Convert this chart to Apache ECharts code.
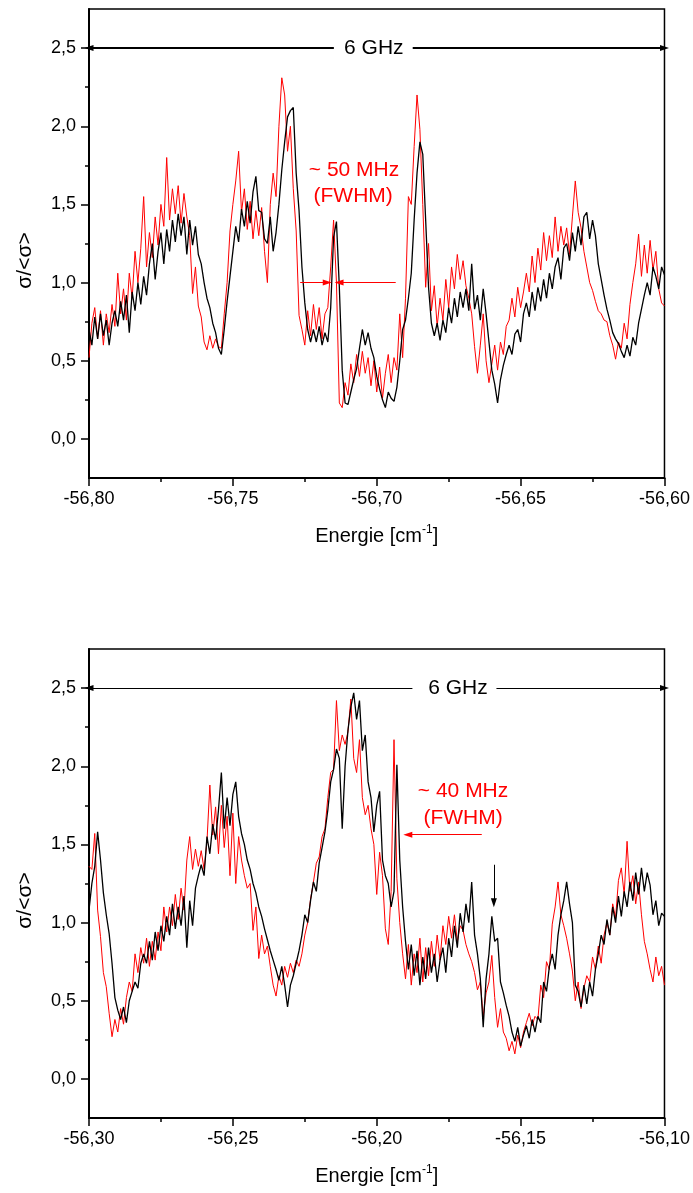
<!DOCTYPE html>
<html>
<head>
<meta charset="utf-8">
<script src="https://cdn.jsdelivr.net/npm/echarts@6/dist/echarts.min.js"></script>
<style>
html,body{margin:0;padding:0;background:#fff;}
#chart{width:693px;height:1193px;}
</style>
</head>
<body>
<div id="chart"></div>
<script>
// ---- data ----
const STEP = 0.001;
const topStart = -56.80;
const bottomStart = -56.30;

const topBlack = [
0.70,0.60,0.78,0.64,0.80,0.66,0.76,0.60,0.74,0.82,
0.72,0.88,0.76,0.92,0.68,0.94,0.82,1.00,0.86,1.04,
0.92,1.12,1.25,1.02,1.20,1.32,1.12,1.34,1.20,1.40,
1.26,1.44,1.30,1.42,1.18,1.40,1.24,1.36,1.18,1.12,
1.00,0.90,0.84,0.74,0.68,0.58,0.54,0.70,0.88,1.04,
1.20,1.36,1.26,1.47,1.36,1.52,1.38,1.58,1.68,1.46,
1.45,1.28,1.25,1.42,1.20,1.32,1.50,1.72,1.90,2.06,
2.10,2.12,1.70,1.46,1.10,0.87,0.70,0.62,0.70,0.62,
0.72,0.60,0.68,0.62,0.84,1.29,1.39,0.97,0.44,0.23,
0.22,0.30,0.38,0.45,0.58,0.70,0.60,0.68,0.58,0.52,
0.40,0.32,0.25,0.20,0.30,0.26,0.24,0.33,0.50,0.70,
0.76,0.90,1.06,1.40,1.70,1.90,1.82,1.40,0.97,0.74,
0.66,0.74,0.63,0.76,0.68,0.84,0.74,0.90,0.78,0.94,
0.84,0.96,0.82,1.12,0.83,0.92,0.76,0.96,0.80,0.62,
0.44,0.35,0.23,0.38,0.47,0.54,0.60,0.54,0.67,0.70,
0.62,0.80,0.87,0.78,0.94,0.82,0.97,0.88,1.02,0.90,
1.06,0.96,1.10,1.16,1.02,1.22,1.25,1.14,1.32,1.20,
1.36,1.24,1.42,1.45,1.28,1.40,1.30,1.12,1.02,0.92,
0.83,0.76,0.68,0.64,0.61,0.56,0.52,0.60,0.53,0.65,
0.60,0.74,0.83,0.92,1.00,0.92,1.10,1.04,0.96,1.10,
1.05];

const topRed = [
0.52,0.74,0.84,0.64,0.82,0.60,0.80,0.68,0.86,0.72,
1.06,0.80,0.96,0.76,1.06,0.90,1.20,1.00,1.22,1.55,
1.10,1.32,1.16,1.42,1.24,1.50,1.36,1.80,1.40,1.60,
1.44,1.62,1.38,1.57,1.42,1.30,0.93,1.10,0.85,0.78,
0.62,0.57,0.66,0.58,0.64,0.59,0.58,0.80,1.00,1.33,
1.50,1.65,1.84,1.45,1.60,1.34,1.52,1.28,1.46,1.30,
1.48,1.20,1.00,1.50,1.70,1.55,2.00,2.31,2.20,1.84,
2.00,1.60,1.33,0.79,0.70,0.60,0.82,0.66,0.86,0.70,
0.84,0.64,0.80,0.84,1.10,1.40,1.00,0.23,0.20,0.36,
0.28,0.48,0.36,0.54,0.40,0.56,0.42,0.52,0.34,0.50,
0.30,0.46,0.26,0.42,0.54,0.36,0.52,0.44,0.80,0.52,
0.90,1.55,1.50,1.87,2.20,1.98,1.50,0.97,1.25,0.82,
0.98,0.72,0.90,0.76,1.02,0.84,1.10,0.96,1.18,1.02,
1.14,0.98,0.90,0.80,0.59,0.42,0.60,0.80,0.50,0.36,
0.48,0.60,0.44,0.62,0.54,0.72,0.76,0.90,0.78,0.97,
0.84,0.94,1.06,0.94,1.17,1.00,1.22,1.08,1.32,1.14,
1.30,1.16,1.42,1.20,1.36,1.24,1.35,1.18,1.42,1.65,
1.45,1.35,1.20,1.10,1.00,0.95,0.88,0.82,0.80,0.76,
0.75,0.66,0.60,0.51,0.62,0.58,0.74,0.64,0.86,1.00,
1.12,1.31,1.04,1.24,1.06,1.27,1.08,1.20,0.96,0.87,
0.85];

const bottomBlack = [
1.08,1.25,1.36,1.58,1.40,1.19,1.05,0.93,0.74,0.52,
0.44,0.38,0.46,0.36,0.50,0.56,0.62,0.58,0.74,0.80,
0.74,0.88,0.76,0.94,0.82,0.98,0.88,1.04,0.92,1.12,
0.96,1.10,0.98,1.17,0.84,1.14,0.98,1.22,1.30,1.37,
1.30,1.55,1.44,1.63,1.53,1.72,1.96,1.60,1.80,1.62,
1.82,1.90,1.68,1.57,1.50,1.40,1.34,1.25,1.19,1.10,
1.04,0.96,0.89,0.82,0.76,0.70,0.63,0.72,0.60,0.46,
0.60,0.66,0.74,0.82,0.92,1.05,1.00,1.14,1.26,1.20,
1.38,1.48,1.58,1.72,1.90,1.98,2.11,2.05,1.60,2.00,
2.23,2.38,2.47,2.30,2.42,2.10,2.20,1.90,1.80,1.58,
1.75,1.84,1.40,1.30,1.25,1.10,1.20,2.01,1.40,1.10,
0.88,0.70,0.86,0.66,0.82,0.60,0.78,0.64,0.84,0.68,
0.80,0.62,0.76,0.84,0.68,0.90,0.78,0.98,0.84,1.06,
0.94,1.12,1.00,1.26,0.92,0.80,0.64,0.33,0.64,0.80,
1.04,0.88,0.90,0.62,0.55,0.47,0.40,0.30,0.24,0.33,
0.21,0.28,0.34,0.26,0.38,0.30,0.40,0.36,0.62,0.56,
0.72,0.80,0.70,0.92,1.05,1.14,1.26,1.12,1.00,0.60,
0.56,0.46,0.60,0.48,0.62,0.53,0.70,0.80,0.92,0.86,
1.02,0.92,1.10,1.00,1.17,1.04,1.20,1.10,1.26,1.14,
1.32,1.18,1.35,1.20,1.32,1.24,1.05,1.14,0.98,1.06,
1.04];

const bottomRed = [
1.36,1.34,1.57,1.08,0.91,0.68,0.59,0.42,0.27,0.38,
0.30,0.45,0.35,0.52,0.62,0.56,0.80,0.68,0.84,0.74,
0.90,0.72,0.88,0.76,0.94,0.82,1.10,0.94,1.10,0.98,
1.18,1.02,1.22,1.08,1.40,1.55,1.34,1.47,1.36,1.46,
1.34,1.52,1.88,1.56,1.74,1.44,1.75,1.48,1.68,1.30,
1.70,1.25,1.55,1.40,1.30,1.22,1.25,0.95,1.10,0.77,
0.92,0.80,0.85,0.72,0.60,0.53,0.66,0.60,0.72,0.65,
0.74,0.68,0.76,0.72,0.80,0.92,1.00,1.15,1.26,1.38,
1.42,1.55,1.60,1.80,1.96,1.98,2.42,2.10,2.20,2.14,
2.22,2.43,2.05,1.96,2.17,1.80,1.69,1.75,1.60,1.50,
1.18,1.45,1.30,0.96,0.86,1.20,2.17,1.28,1.00,0.80,
0.64,0.86,0.60,0.80,0.68,0.90,0.62,0.84,0.66,0.88,
0.72,0.92,0.76,0.98,0.86,1.04,0.90,1.05,0.88,0.98,
0.95,0.86,0.80,0.75,0.68,0.57,0.62,0.40,0.55,0.62,
0.79,0.52,0.33,0.45,0.30,0.26,0.18,0.24,0.16,0.28,
0.20,0.30,0.36,0.42,0.34,0.40,0.38,0.60,0.52,0.75,
0.70,0.99,1.10,1.26,1.05,0.98,0.90,0.80,0.69,0.50,
0.62,0.45,0.58,0.66,0.62,0.78,0.70,0.85,0.74,0.92,
1.00,0.92,1.12,1.03,1.27,1.35,1.18,1.52,1.20,1.30,
1.12,1.26,1.05,0.88,0.80,0.70,0.62,0.78,0.66,0.72,
0.60];

// tick values
const yMajor = [0, 0.5, 1.0, 1.5, 2.0, 2.5];
const yMinor = [0.25, 0.75, 1.25, 1.75, 2.25];
const xMajorTop = [-56.80, -56.75, -56.70, -56.65, -56.60];
const xMinorTop = [-56.775, -56.725, -56.675, -56.625];
const xMajorBottom = [-56.30, -56.25, -56.20, -56.15, -56.10];
const xMinorBottom = [-56.275, -56.225, -56.175, -56.125];

// ---- build ----
const FONT = '"Liberation Sans", Arial, sans-serif';
function pairs(start, arr) {
  return arr.map((v, i) => [Math.round((start + i * STEP) * 10000) / 10000, v]);
}
const Y_MIN = -0.25, Y_MAX = 2.75;

const grids = [
  {left: 89, width: 576, top: 9, height: 469},
  {left: 89, width: 576, top: 649, height: 469}
].map(g => Object.assign(g, {show: true, borderColor: '#000', borderWidth: 1.5, backgroundColor: 'transparent'}));

function mainX(gi, min, max, majors) {
  return {
    gridIndex: gi, type: 'value', min: min, max: max, position: 'bottom',
    axisLine: {show: true, onZero: false, lineStyle: {color: '#000', width: 2}},
    axisTick: {show: true, inside: false, length: 8, customValues: majors, lineStyle: {color: '#000', width: 1.5}},
    axisLabel: {show: true, customValues: majors, margin: 12, color: '#000', fontSize: 18, fontFamily: FONT,
      formatter: v => v.toFixed(2).replace('.', ',')},
    splitLine: {show: false},
    name: 'Energie [cm{sup|-1}]', nameLocation: 'middle', nameGap: 46,
    nameTextStyle: {color: '#000', fontSize: 20, fontFamily: FONT, lineHeight: 24,
      rich: {sup: {fontSize: 12, fontFamily: FONT, color: '#000', verticalAlign: 'top', lineHeight: 24, padding: [0, 0, 10, 0]}}}
  };
}
function minorX(gi, min, max, minors) {
  return {
    gridIndex: gi, type: 'value', min: min, max: max, position: 'bottom',
    axisLine: {show: false, onZero: false},
    axisTick: {show: true, inside: false, length: 4, customValues: minors, lineStyle: {color: '#000', width: 1.5}},
    axisLabel: {show: false}, splitLine: {show: false}
  };
}
function mainY(gi) {
  return {
    gridIndex: gi, type: 'value', min: Y_MIN, max: Y_MAX, position: 'left',
    axisLine: {show: true, onZero: false, lineStyle: {color: '#000', width: 2}},
    axisTick: {show: true, inside: false, length: 8, customValues: yMajor, lineStyle: {color: '#000', width: 1.5}},
    axisLabel: {show: true, customValues: yMajor, margin: 13, color: '#000', fontSize: 18, fontFamily: FONT,
      formatter: v => v.toFixed(1).replace('.', ',')},
    splitLine: {show: false},
    name: 'σ/<σ>', nameLocation: 'middle', nameGap: 53,
    nameTextStyle: {color: '#000', fontSize: 21, fontFamily: FONT, padding: [0, 34, 0, 0]}
  };
}
function minorY(gi) {
  return {
    gridIndex: gi, type: 'value', min: Y_MIN, max: Y_MAX, position: 'left',
    axisLine: {show: false, onZero: false},
    axisTick: {show: true, inside: false, length: 4, customValues: yMinor, lineStyle: {color: '#000', width: 1.5}},
    axisLabel: {show: false}, splitLine: {show: false}
  };
}

function textPoint(name, x, y, color) {
  return {name: name, coord: [x, y], symbol: 'rect', symbolSize: 1, itemStyle: {color: 'rgba(0,0,0,0)'},
    label: {show: true, position: 'inside', formatter: '{b}', color: color, fontSize: 21, fontFamily: FONT}};
}
function seg(x1, y1, x2, y2, s1, s2) {
  return [{coord: [x1, y1], symbol: s1}, {coord: [x2, y2], symbol: s2}];
}

const series = [
  // top panel
  {type: 'line', xAxisIndex: 0, yAxisIndex: 0, data: pairs(topStart, topRed), showSymbol: false,
    lineStyle: {color: '#ff0000', width: 1}, itemStyle: {color: '#ff0000'}, z: 2,
    markLine: {silent: true, symbolSize: [6, 9], label: {show: false}, lineStyle: {color: '#ff0000', width: 1, type: 'solid'},
      data: [seg(-56.7266, 1.0, -56.7172, 1.0, 'none', 'triangle'),
             seg(-56.6934, 1.0, -56.7131, 1.0, 'none', 'triangle')]},
    markPoint: {silent: true, data: [textPoint('~ 50 MHz', -56.7079, 1.722, '#ff0000'),
                                     textPoint('(FWHM)', -56.7082, 1.55, '#ff0000')]}},
  {type: 'line', xAxisIndex: 0, yAxisIndex: 0, data: pairs(topStart, topBlack), showSymbol: false,
    lineStyle: {color: '#000', width: 1.3}, itemStyle: {color: '#000'}, z: 3,
    markLine: {silent: true, symbolSize: [6, 9], label: {show: false}, lineStyle: {color: '#000', width: 2, type: 'solid'},
      data: [seg(-56.7149, 2.5, -56.80, 2.5, 'none', 'triangle'),
             seg(-56.6875, 2.5, -56.60, 2.5, 'none', 'triangle')]},
    markPoint: {silent: true, data: [textPoint('6 GHz', -56.7010, 2.5, '#000')]}},
  // bottom panel
  {type: 'line', xAxisIndex: 2, yAxisIndex: 2, data: pairs(bottomStart, bottomRed), showSymbol: false,
    lineStyle: {color: '#ff0000', width: 1}, itemStyle: {color: '#ff0000'}, z: 2,
    markLine: {silent: true, symbolSize: [6, 9], label: {show: false}, lineStyle: {color: '#ff0000', width: 1, type: 'solid'},
      data: [seg(-56.1635, 1.562, -56.1892, 1.562, 'none', 'triangle')]},
    markPoint: {silent: true, data: [textPoint('~ 40 MHz', -56.1700, 1.84, '#ff0000'),
                                     textPoint('(FWHM)', -56.1700, 1.67, '#ff0000')]}},
  {type: 'line', xAxisIndex: 2, yAxisIndex: 2, data: pairs(bottomStart, bottomBlack), showSymbol: false,
    lineStyle: {color: '#000', width: 1.3}, itemStyle: {color: '#000'}, z: 3,
    markLine: {silent: true, symbolSize: [6, 9], label: {show: false}, lineStyle: {color: '#000', width: 1, type: 'solid'},
      data: [seg(-56.1876, 2.5, -56.30, 2.5, 'none', 'triangle'),
             seg(-56.1584, 2.5, -56.10, 2.5, 'none', 'triangle'),
             seg(-56.1593, 1.37, -56.1593, 1.127, 'none', 'triangle')]},
    markPoint: {silent: true, data: [textPoint('6 GHz', -56.1718, 2.5, '#000')]}}
];

const chart = echarts.init(document.getElementById('chart'), null, {renderer: 'canvas'});
chart.setOption({
  animation: false,
  backgroundColor: '#fff',
  textStyle: {fontFamily: FONT},
  grid: grids,
  xAxis: [mainX(0, -56.80, -56.60, xMajorTop), minorX(0, -56.80, -56.60, xMinorTop),
          mainX(1, -56.30, -56.10, xMajorBottom), minorX(1, -56.30, -56.10, xMinorBottom)],
  yAxis: [mainY(0), minorY(0), mainY(1), minorY(1)],
  series: series
});
</script>
</body>
</html>
